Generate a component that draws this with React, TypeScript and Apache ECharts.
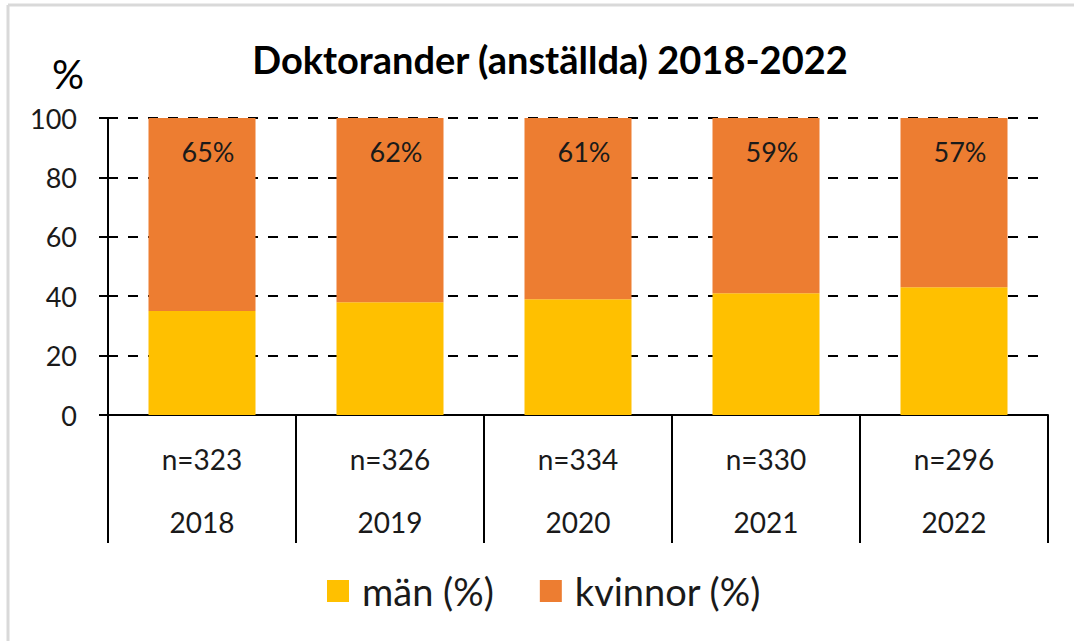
import React, { useEffect, useRef } from "react";
import * as echarts from "echarts";

const years = ["2018", "2019", "2020", "2021", "2022"];
const nValues = [323, 326, 334, 330, 296];
const menPct = [35, 38, 39, 41, 43];
const womenPct = [65, 62, 61, 59, 57];
const yTicks = { min: 0, max: 100, interval: 20 };

const FONT = "Lato, 'Open Sans', sans-serif";

export default function App() {
  const ref = useRef<HTMLDivElement>(null);
  useEffect(() => {
    document.body.style.margin = "0";
    const chart = echarts.init(ref.current!, undefined, { renderer: "svg" });
    chart.setOption({
      animation: false,
      backgroundColor: "#ffffff",
      textStyle: { fontFamily: FONT, color: "#1a1a1a" },
      title: {
        text: "Doktorander (anställda) 2018-2022",
        left: 545,
        textAlign: "center",
        top: 35,
        textStyle: { fontFamily: FONT, fontSize: 38, fontWeight: "bold", color: "#000" },
      },
      graphic: [
        { type: "line", shape: { x1: 8, y1: 5, x2: 1074, y2: 5 }, style: { stroke: "#d9d9d9", lineWidth: 3 } },
        { type: "line", shape: { x1: 8, y1: 5, x2: 8, y2: 641 }, style: { stroke: "#d9d9d9", lineWidth: 3 } },
        {
          type: "text",
          x: 68,
          y: 74,
          style: { text: "%", fontFamily: FONT, fontSize: 40, fill: "#000", align: "center", verticalAlign: "middle" },
        },
      ],
      legend: {
        left: 327,
        top: 572,
        padding: 0,
        icon: "rect",
        itemWidth: 22,
        itemHeight: 22,
        itemGap: 46,
        textStyle: { fontFamily: FONT, fontSize: 38, color: "#1a1a1a", padding: [0, 0, 0, 8] },
        data: ["män (%)", "kvinnor (%)"],
      },
      grid: { left: 108, right: 26, top: 118, bottom: 226 },
      xAxis: {
        type: "category",
        data: years,
        axisLine: { lineStyle: { color: "#000", width: 2 } },
        axisTick: { show: true, length: 128, lineStyle: { color: "#000", width: 2 } },
        axisLabel: {
          margin: 12,
          formatter: (v: string, i: number) => `{a|n=${nValues[i]}}\n{b|${v}}`,
          rich: {
            a: { fontFamily: FONT, fontSize: 28, color: "#1a1a1a", lineHeight: 63 },
            b: { fontFamily: FONT, fontSize: 28, color: "#1a1a1a", lineHeight: 63 },
          },
        },
      },
      yAxis: [
        {
          type: "value",
          ...yTicks,
          axisLine: { show: true, lineStyle: { color: "#000", width: 2 } },
          axisTick: { show: true, length: 9, lineStyle: { color: "#000", width: 2 } },
          axisLabel: { margin: 31, fontFamily: FONT, fontSize: 27, color: "#1a1a1a" },
          splitLine: { show: true, lineStyle: { color: "#000", width: 2, type: [10, 10] } },
        },
        {
          type: "value",
          ...yTicks,
          position: "left",
          offset: 0,
          axisLine: { show: false },
          axisTick: { show: true, inside: true, length: 9, lineStyle: { color: "#000", width: 2 } },
          axisLabel: { show: false },
          splitLine: { show: false },
        },
      ],
      series: [
        {
          name: "män (%)",
          type: "bar",
          stack: "total",
          data: menPct,
          barWidth: 107,
          itemStyle: { color: "#FFC000" },
        },
        {
          name: "kvinnor (%)",
          type: "bar",
          stack: "total",
          data: womenPct,
          barWidth: 107,
          itemStyle: { color: "#ED7D31" },
          label: {
            show: true,
            position: "insideTop",
            distance: 20,
            offset: [6, 0],
            formatter: (p: any) => `${p.value}%`,
            fontFamily: FONT,
            fontSize: 27,
            color: "#1a1a1a",
          },
        },
      ],
    });
    return () => chart.dispose();
  }, []);
  return <div ref={ref} style={{ width: 1074, height: 641 }} />;
}
